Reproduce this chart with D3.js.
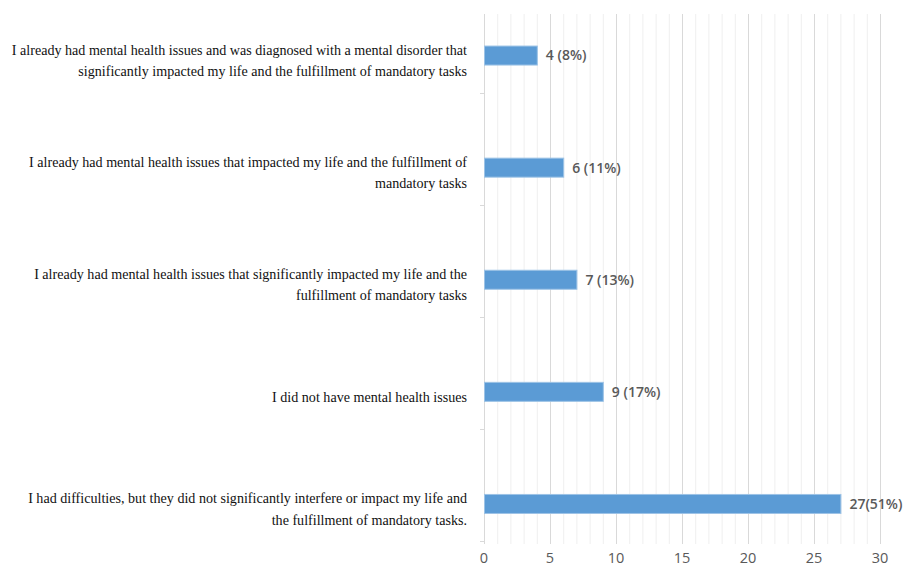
<!DOCTYPE html>
<html lang="en">
<head>
    <meta charset="UTF-8">
    <title>Mental health before</title>
    <script src="https://cdn.jsdelivr.net/npm/d3@7/dist/d3.min.js"></script>
    <style>
        body{margin: 0; background: #fff}
        svg .bar{
            fill: #5b9bd5;
            stroke: #9dc3e6;
            stroke-width: 1;
        }
        svg .cat{
            font-family: "Liberation Serif", "Times New Roman", serif;
            font-size: 14.1px;
            fill: #111;
        }
        svg .val{
            font-family: "Open Sans", sans-serif;
            font-weight: 600;
            font-size: 14px;
            fill: #595959;
        }
        svg .xtick{
            font-family: "Open Sans", sans-serif;
            font-size: 14.5px;
            fill: #595959;
        }
    </style>
</head>
<body>
    <svg></svg>
    <script>
        // categories, top to bottom
        var categories = [
            ['I already had mental health issues and was diagnosed with a mental disorder that', 'significantly impacted my life and the fulfillment of mandatory tasks'],
            ['I already had mental health issues that impacted my life and the fulfillment of', 'mandatory tasks'],
            ['I already had mental health issues that significantly impacted my life and the', 'fulfillment of mandatory tasks'],
            ['I did not have mental health issues'],
            ['I had difficulties, but they did not significantly interfere or impact my life and', 'the fulfillment of mandatory tasks.']
        ]
        var counts = [4, 6, 7, 9, 27]
        var valueLabels = ['4 (8%)', '6 (11%)', '7 (13%)', '9 (17%)', '27(51%)']
        var xTicks = [0, 5, 10, 15, 20, 25, 30]

        var width = 904, height = 564
        var plotLeft = 484, plotRight = 880
        var gridTop = 14, gridBottom = 544

        var svg = d3.select('svg')
            .attr('width', width)
            .attr('height', height)

        var idx = d3.range(categories.length)

        var x = d3.scaleLinear()
            .domain([0, 30])
            .range([plotLeft, plotRight])

        var y = d3.scaleBand()
            .domain(idx)
            .range([-0.5, 560])

        var barH = 19
        var cy = i => y(i) + y.bandwidth() / 2

        // minor grid (every 1)
        svg.append('g')
            .selectAll('line')
            .data(d3.range(1, 31).filter(v => v % 5 !== 0))
            .join('line')
            .attr('x1', d => x(d) + 0.5).attr('x2', d => x(d) + 0.5)
            .attr('y1', gridTop).attr('y2', gridBottom)
            .attr('stroke', '#efefef')

        // major grid (every 5)
        svg.append('g')
            .selectAll('line')
            .data(xTicks.slice(1))
            .join('line')
            .attr('x1', d => x(d) + 0.5).attr('x2', d => x(d) + 0.5)
            .attr('y1', gridTop).attr('y2', gridBottom)
            .attr('stroke', '#d9d9d9')

        // left axis line and category separators
        svg.append('line')
            .attr('x1', x(0) + 0.5).attr('x2', x(0) + 0.5)
            .attr('y1', gridTop).attr('y2', gridBottom)
            .attr('stroke', '#d9d9d9')
        svg.append('g')
            .selectAll('line')
            .data(idx)
            .join('line')
            .attr('x1', x(0) - 4).attr('x2', x(0))
            .attr('y1', i => Math.round(cy(i) + 37) + 0.5)
            .attr('y2', i => Math.round(cy(i) + 37) + 0.5)
            .attr('stroke', '#d9d9d9')

        // bars
        svg.selectAll('.bar')
            .data(counts)
            .join('rect')
            .attr('class', 'bar')
            .attr('x', x(0) + 0.5)
            .attr('y', (d, i) => cy(i) - barH / 2)
            .attr('width', d => x(d) - x(0))
            .attr('height', barH)

        // value labels
        svg.selectAll('.val')
            .data(counts)
            .join('text')
            .attr('class', 'val')
            .attr('x', d => x(d) + 9)
            .attr('y', (d, i) => cy(i))
            .attr('dy', '0.35em')
            .text((d, i) => valueLabels[i])

        // category labels, right aligned
        var lineH = 21.5
        svg.selectAll('.cat')
            .data(categories)
            .join('text')
            .attr('class', 'cat')
            .attr('text-anchor', 'end')
            .each(function(lines, i) {
                var t = d3.select(this)
                var y0 = cy(i) + 5 - (lines.length - 1) * lineH / 2
                lines.forEach((s, k) => {
                    t.append('tspan')
                        .attr('x', 467)
                        .attr('y', y0 + k * lineH)
                        .attr('dy', '0.35em')
                        .text(s)
                })
            })

        // x axis tick labels (cut by the bottom edge, as in the source image)
        svg.selectAll('.xtick')
            .data(xTicks)
            .join('text')
            .attr('class', 'xtick')
            .attr('x', d => x(d))
            .attr('y', 563)
            .attr('text-anchor', 'middle')
            .text(d => d)
    </script>
</body>
</html>
